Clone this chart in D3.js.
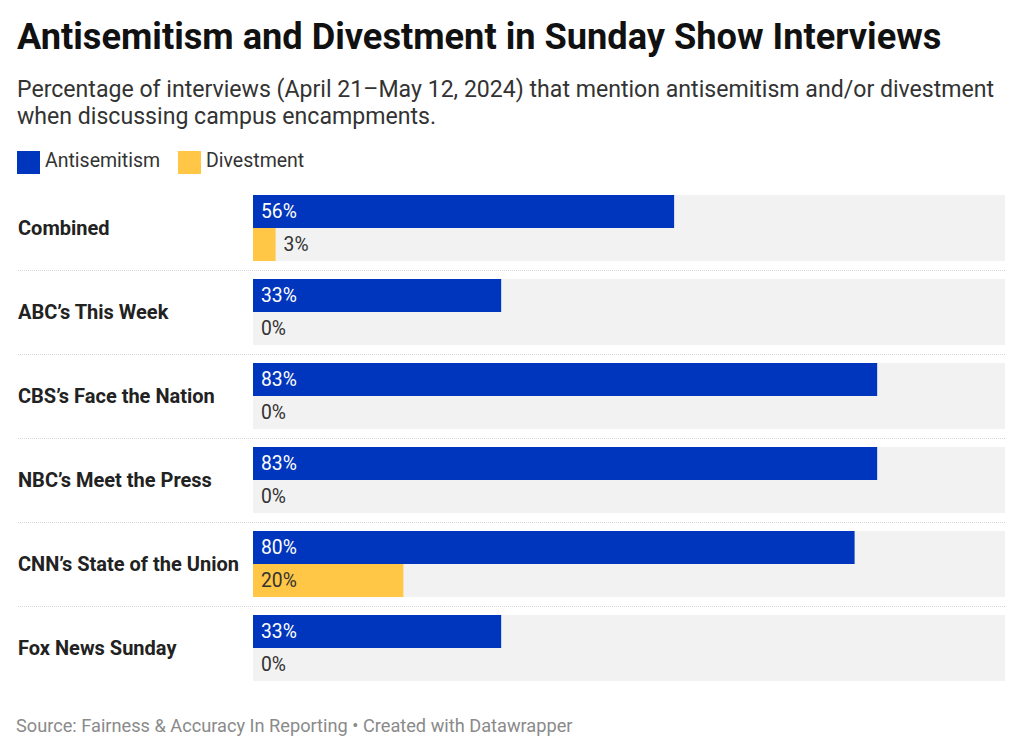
<!DOCTYPE html>
<html><head><meta charset="utf-8">
<script src="https://cdn.jsdelivr.net/npm/d3@7"></script>
<style>
body{margin:0;background:#fff;font-family:Roboto,"Noto Sans",sans-serif;}
</style></head>
<body>
<svg id="chart" width="1024" height="755"></svg>
<script>
const categories = ["Combined","ABC’s This Week","CBS’s Face the Nation","NBC’s Meet the Press","CNN’s State of the Union","Fox News Sunday"];
const antisemitism = [56,33,83,83,80,33];
const divestment = [3,0,0,0,20,0];
const seriesNames = ["Antisemitism","Divestment"];
const colors = ["#0036bd","#ffc745"];

const svg = d3.select("#chart");

svg.append("text").attr("x",17).attr("y",49).attr("font-size",36.2).attr("font-weight",700).attr("fill","#111")
  .text("Antisemitism and Divestment in Sunday Show Interviews");
const sub = svg.append("text").attr("font-size",23.1).attr("fill","#333");
sub.append("tspan").attr("x",17).attr("y",97).text("Percentage of interviews (April 21–May 12, 2024) that mention antisemitism and/or divestment");
sub.append("tspan").attr("x",17).attr("y",124).text("when discussing campus encampments.");

// legend
const legX = [17,178];
seriesNames.forEach((n,i)=>{
  svg.append("rect").attr("x",legX[i]).attr("y",151).attr("width",23).attr("height",23).attr("fill",colors[i]);
  svg.append("text").attr("x",legX[i]+28).attr("y",167).attr("font-size",19.5).attr("fill","#333").text(n);
});

const x = d3.scaleLinear().domain([0,100]).range([253,1005]);
const y = d3.scaleBand().domain(categories).range([195,699]).paddingInner(0).paddingOuter(0);
const groupH = 66;
const barH = groupH/2;

const g = svg.append("g");
categories.forEach((c,i)=>{
  const y0 = y(c);
  g.append("rect").attr("x",x(0)).attr("y",y0).attr("width",x(100)-x(0)).attr("height",groupH).attr("fill","#f2f2f2");
  g.append("text").attr("x",18).attr("y",y0+groupH/2+7).attr("font-size",20).attr("font-weight",700).attr("fill","#222").text(c);
  const vals = [antisemitism[i], divestment[i]];
  vals.forEach((v,j)=>{
    const by = y0 + j*barH;
    if(v>0) g.append("rect").attr("x",x(0)).attr("y",by).attr("width",x(v)-x(0)).attr("height",barH).attr("fill",colors[j]);
    const inside = (x(v)-x(0)) > 40;
    g.append("text")
      .attr("x", inside ? x(0)+8 : x(v)+8)
      .attr("y", by+barH/2+6.5)
      .attr("font-size",19.3)
      .attr("fill", (j===0 && inside) ? "#fff" : "#333")
      .text(v+"%");
  });
  if(i<categories.length-1){
    g.append("line").attr("x1",18).attr("x2",1006).attr("y1",y0+75.5).attr("y2",y0+75.5)
      .attr("stroke","#d8d8d8").attr("stroke-width",1).attr("stroke-dasharray","1,1");
  }
});

svg.append("text").attr("x",16).attr("y",732).attr("font-size",18.2).attr("fill","#8a8a8a")
  .text("Source: Fairness & Accuracy In Reporting • Created with Datawrapper");
</script>
</body></html>
